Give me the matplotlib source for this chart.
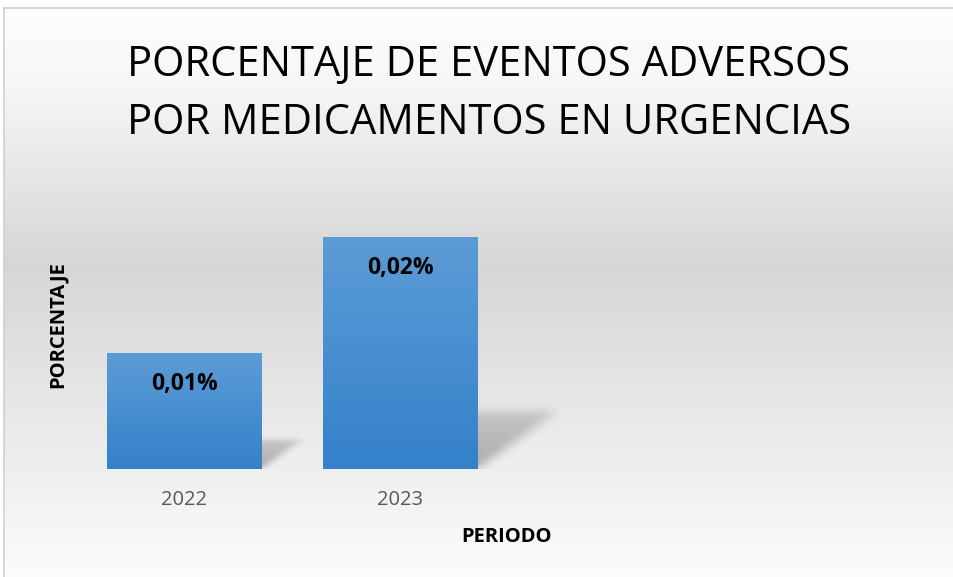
import matplotlib
matplotlib.use("Agg")
import matplotlib.pyplot as plt
from matplotlib.colors import LinearSegmentedColormap
import numpy as np

# ------------------------------------------------------------------
#  DATA
# ------------------------------------------------------------------
years        = ["2022", "2023"]
values       = [0.01, 0.02]
value_labels = ["0,01%", "0,02%"]
title_text   = "PORCENTAJE DE EVENTOS ADVERSOS\nPOR MEDICAMENTOS EN URGENCIAS"
x_label      = "PERIODO"
y_label      = "PORCENTAJE"

# ------------------------------------------------------------------
#  FIGURE
# ------------------------------------------------------------------
W, H = 954, 577
fig = plt.figure(figsize=(W / 100, H / 100), dpi=100)
fig.patch.set_facecolor("white")

# background gradient of the chart area
bg = fig.add_axes([4 / W, 0, 1 - 4 / W, (H - 8) / H])
bg_stops = [(0.0, "#fcfcfc"), (0.19, "#efefef"), (0.55, "#d6d6d6"),
            (0.86, "#f6f6f6"), (1.0, "#fefefe")]
bg_cmap = LinearSegmentedColormap.from_list("bg", bg_stops)
bg.imshow(np.linspace(0, 1, 256).reshape(-1, 1)[::-1], cmap=bg_cmap,
          aspect="auto", extent=[0, 1, 0, 1], origin="upper")
bg.set_xlim(0, 1)
bg.set_ylim(0, 1)
bg.axis("off")
# frame lines (top and left)
fig.add_artist(plt.Line2D([4 / W, 1], [(H - 8) / H] * 2, color="#d0d0d0", lw=1.2))
fig.add_artist(plt.Line2D([4.5 / W] * 2, [0, (H - 8) / H], color="#d0d0d0", lw=1.2))

# plot area
ax = fig.add_axes([76 / W, (H - 469) / H, 864 / W, 290 / H])
ax.patch.set_alpha(0)
for s in ax.spines.values():
    s.set_visible(False)
ax.set_yticks([])
ax.set_xticks(range(len(years)))
ax.set_xticklabels(years, fontsize=14.5, color="#595959", family="Open Sans")
ax.tick_params(axis="x", length=0, pad=15)

bar_w = 0.713
bar_cmap = LinearSegmentedColormap.from_list("bar", ["#3481ca", "#5c9cd6"])
grad = np.linspace(0, 1, 256).reshape(-1, 1)


def blur(a, n):
    k = np.ones(n) / n
    for _ in range(2):
        a = np.apply_along_axis(lambda r: np.convolve(r, k, mode="same"), 1, a)
        a = np.apply_along_axis(lambda c: np.convolve(c, k, mode="same"), 0, a)
    return a


for i, v in enumerate(values):
    x0, x1 = i - bar_w / 2, i + bar_w / 2
    # soft perspective shadow: sheared, flattened copy of the bar
    shift = 18.5 * v
    sh_h = 0.25 * v
    gx = np.linspace(x0, x1 + shift + 0.15, 260)
    gy = np.linspace(0, sh_h * 1.5, 90)
    XX, YY = np.meshgrid(gx, gy)
    t = YY / sh_h
    inside = (t <= 1) & (XX >= x0 + t * shift) & (XX <= x1 + t * shift)
    a = blur(inside.astype(float), 11) * (1 - 0.45 * np.clip(t, 0, 1))
    shadow = np.zeros(a.shape + (4,))
    shadow[..., :3] = 0.35
    shadow[..., 3] = 0.45 * a
    ax.imshow(shadow, origin="lower", aspect="auto",
              extent=[gx[0], gx[-1], 0, gy[-1]], zorder=1, interpolation="bilinear")
    # gradient-filled bar
    ax.imshow(grad, cmap=bar_cmap, aspect="auto", origin="lower",
              extent=[x0, x1, 0, v], zorder=3)
    ax.text(i, v - 0.0027, value_labels[i], ha="center", va="center",
            fontsize=16.5, fontweight="bold", family="Open Sans", zorder=4)

ax.set_xlim(-0.5, 3.5)
ax.set_ylim(0, 0.025)

fig.text(489 / W, 1 - 94 / H, title_text, ha="center", va="center",
         fontsize=30, family="Open Sans", linespacing=1.52, color="black")
fig.text(507 / W, 1 - 537 / H, x_label, ha="center", va="center",
         fontsize=14.5, fontweight="bold", family="Open Sans")
fig.text(58 / W, 1 - 325 / H, y_label, ha="center", va="center",
         rotation=90, fontsize=14.5, fontweight="bold", family="Open Sans")

fig.savefig("out.png", dpi=100)
